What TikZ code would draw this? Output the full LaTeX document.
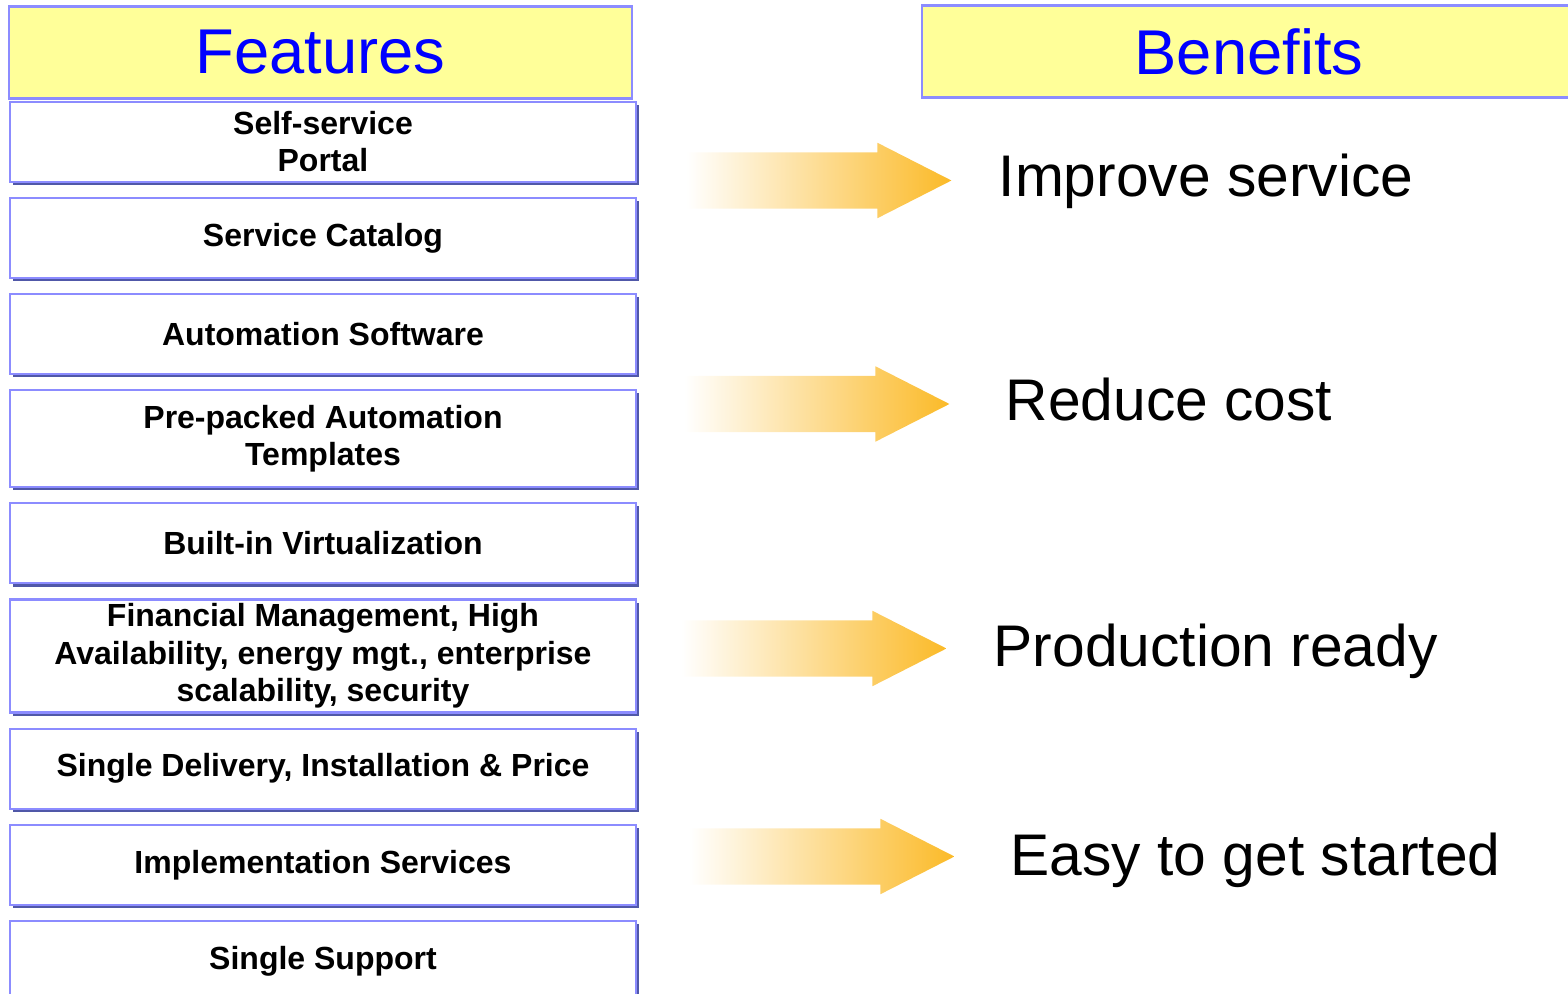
\documentclass[tikz,border=0pt]{standalone}
\usepackage{fontspec}
\setmainfont{Liberation Sans}
\usepackage{tikz}
\usetikzlibrary{positioning,shapes,shadows}

\definecolor{boxline}{RGB}{140,140,255}
\definecolor{boxshadow}{RGB}{80,88,168}
\definecolor{headfill}{RGB}{255,255,153}
\definecolor{arrowfill}{RGB}{251,186,40}

\begin{document}
\begin{tikzpicture}[x=0.01cm,y=-0.01cm]
\tikzset{
	head node/.style = {rectangle, draw=boxline, line width=0.6pt, fill=headfill, minimum height=0.92cm, text=blue, font=\fontsize{18}{20}\selectfont},
	feat node/.style = {rectangle, draw=boxline, line width=0.6pt, fill=white, minimum width=6.26cm, inner ysep=0, align=center, font=\fontsize{9.1}{10.7}\selectfont\bfseries, drop shadow={shadow xshift=0.9pt, shadow yshift=-0.9pt, fill=boxshadow, opacity=1}},
	arrow node/.style = {single arrow, anchor=tip, minimum height=2.65cm, minimum width=0.74cm, single arrow head extend=0.095cm, single arrow tip angle=54, inner xsep=0, inner ysep=0.275cm, left color=white, middle color=arrowfill!30, right color=arrowfill},
	benefit/.style = {anchor=base west, inner sep=0, font=\fontsize{16.7}{20}\selectfont},
	node distance = 0.14cm,
}
\useasboundingbox (0,0) rectangle (1568,994);

\node(feat)[head node, minimum width=6.23cm] at (320.5,52.5) {Features};
\node(ben)[head node, minimum width=6.54cm] at (1249,51.5) {Benefits};

\node(f1)[feat node, minimum height=0.80cm, below=0.01cm of feat, xshift=0.025cm] {Self-service\\Portal};
\node(f2)[feat node, minimum height=0.80cm, below=of f1] {Service Catalog};
\node(f3)[feat node, minimum height=0.80cm, below=of f2] {Automation Software};
\node(f4)[feat node, minimum height=0.97cm, below=of f3] {Pre-packed Automation\\Templates};
\node(f5)[feat node, minimum height=0.80cm, below=of f4] {Built-in Virtualization};
\node(f6)[feat node, minimum height=1.13cm, below=of f5] {Financial Management, High\\Availability, energy mgt., enterprise\\scalability, security};
\node(f7)[feat node, minimum height=0.80cm, below=of f6] {Single Delivery, Installation \& Price};
\node(f8)[feat node, minimum height=0.80cm, below=of f7] {Implementation Services};
\node(f9)[feat node, minimum height=0.80cm, below=of f8] {Single Support};

\node(a1)[arrow node] at (953,180.5) {};
\node(a2)[arrow node] at (951,404) {};
\node(a3)[arrow node] at (948,648.5) {};
\node(a4)[arrow node] at (956,856.5) {};

\node(b1)[benefit] at (998,197) {Improve service};
\node(b2)[benefit] at (1005,421) {Reduce cost};
\node(b3)[benefit] at (993,667) {Production ready};
\node(b4)[benefit] at (1010,876) {Easy to get started};

\end{tikzpicture}
\end{document}
